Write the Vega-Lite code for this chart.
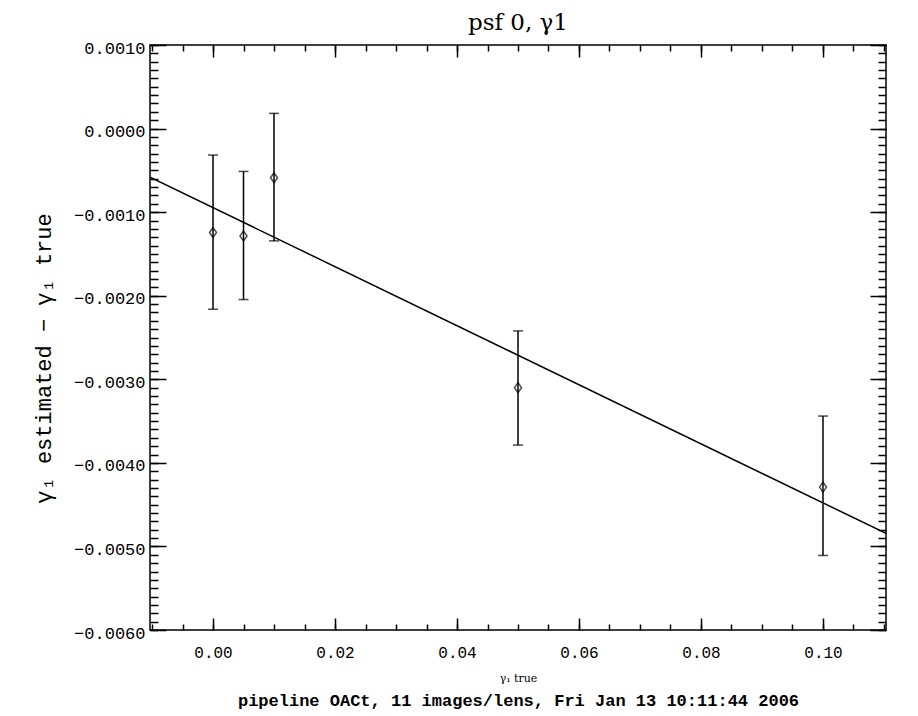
{
  "$schema": "https://vega.github.io/schema/vega-lite/v6.json",
  "width": 736,
  "height": 585,
  "autosize": {"type": "none"},
  "padding": {"left": 150, "top": 45, "right": 32, "bottom": 86},
  "background": "white",
  "config": {
    "view": {"stroke": "black", "strokeWidth": 1.5},
    "axis": {"domain": false, "grid": false, "tickColor": "black", "tickWidth": 1.5, "labelColor": "black", "titleColor": "black", "labelFont": "Liberation Mono", "titleFont": "Liberation Mono", "titleFontWeight": "normal"}
  },
  "title": {"text": "psf 0, γ1", "font": "DejaVu Serif", "fontSize": 23, "fontWeight": "normal", "color": "black", "offset": 4, "anchor": "middle"},
  "datasets": {
    "pts": [
      {"x": 0, "y": -0.001243, "lo": -0.002162, "hi": -0.000317},
      {"x": 0.005, "y": -0.001284, "lo": -0.002046, "hi": -0.000513},
      {"x": 0.01, "y": -0.000589, "lo": -0.001344, "hi": 0.000182},
      {"x": 0.05, "y": -0.0031, "lo": -0.003787, "hi": -0.002421},
      {"x": 0.1, "y": -0.00429, "lo": -0.005108, "hi": -0.00344}
    ],
    "fit": [
      {"x": -0.01033, "y": -0.000581},
      {"x": 0.11033, "y": -0.004844}
    ]
  },
  "layer": [
    {
      "data": {"name": "fit"},
      "mark": {"type": "line", "color": "black", "strokeWidth": 1.5, "clip": true},
      "encoding": {
        "x": {"field": "x", "type": "quantitative", "scale": {"domain": [-0.01033, 0.11033], "nice": false, "zero": false},
          "axis": {"orient": "bottom", "values": [0, 0.02, 0.04, 0.06, 0.08, 0.1], "format": ".2f", "ticks": false, "labelPadding": 14, "labelFontSize": 16, "title": "γ₁ true", "titleFont": "DejaVu Serif", "titleFontSize": 11, "titlePadding": 12}},
        "y": {"field": "y", "type": "quantitative", "scale": {"domain": [-0.006, 0.001], "nice": false, "zero": false},
          "axis": {"orient": "left", "values": [-0.006, -0.005, -0.004, -0.003, -0.002, -0.001, 0, 0.001], "format": ".4f", "ticks": false, "labelPadding": 5, "labelOffset": 3, "labelFontSize": 17, "title": "γ₁ estimated − γ₁ true", "titleFontSize": 22, "titleX": -107, "titleY": 313, "titleBaseline": "middle", "titleAlign": "center", "titleAngle": 270}}
      }
    },
    {
      "mark": {"type": "rule", "color": "black", "strokeWidth": 1.5, "strokeDash": [9, 3, 2, 3]},
      "encoding": {
        "y": {"datum": 0, "type": "quantitative", "scale": {"domain": [-0.006, 0.001], "nice": false, "zero": false},
          "axis": {"orient": "right", "values": [-0.006, -0.005, -0.004, -0.003, -0.002, -0.001, 0, 0.001], "labels": false, "tickSize": 16, "offset": -16, "title": null}}
      }
    },
    {
      "data": {"name": "pts"},
      "mark": {"type": "rule", "color": "black", "strokeWidth": 1.5},
      "encoding": {
        "x": {"field": "x", "type": "quantitative", "scale": {"domain": [-0.01033, 0.11033], "nice": false, "zero": false},
          "axis": {"orient": "bottom", "values": [0, 0.02, 0.04, 0.06, 0.08, 0.1], "labels": false, "tickSize": 12, "offset": -12, "title": "pipeline OACt, 11 images/lens, Fri Jan 13 10:11:44 2006", "titleFontSize": 17, "titleFontWeight": "bold", "titlePadding": 62}},
        "y": {"field": "lo", "type": "quantitative", "scale": {"domain": [-0.006, 0.001], "nice": false, "zero": false},
          "axis": {"orient": "left", "values": [-0.006, -0.005, -0.004, -0.003, -0.002, -0.001, 0, 0.001], "labels": false, "tickSize": 16, "offset": -16, "title": null}},
        "y2": {"field": "hi"}
      }
    },
    {
      "data": {"name": "pts"},
      "mark": {"type": "tick", "orient": "horizontal", "color": "black", "size": 10, "thickness": 1.5},
      "encoding": {
        "x": {"field": "x", "type": "quantitative", "scale": {"domain": [-0.01033, 0.11033], "nice": false, "zero": false},
          "axis": {"orient": "bottom", "values": [-0.01, -0.005, 0, 0.005, 0.01, 0.015, 0.02, 0.025, 0.03, 0.035, 0.04, 0.045, 0.05, 0.055, 0.06, 0.065, 0.07, 0.075, 0.08, 0.085, 0.09, 0.095, 0.1, 0.105, 0.11], "labels": false, "tickSize": 6, "offset": -6, "title": null}},
        "y": {"field": "lo", "type": "quantitative", "scale": {"domain": [-0.006, 0.001], "nice": false, "zero": false},
          "axis": {"orient": "left", "values": [-0.006, -0.0059, -0.0058, -0.0057, -0.0056, -0.0055, -0.0054, -0.0053, -0.0052, -0.0051, -0.005, -0.0049, -0.0048, -0.0047, -0.0046, -0.0045, -0.0044, -0.0043, -0.0042, -0.0041, -0.004, -0.0039, -0.0038, -0.0037, -0.0036, -0.0035, -0.0034, -0.0033, -0.0032, -0.0031, -0.003, -0.0029, -0.0028, -0.0027, -0.0026, -0.0025, -0.0024, -0.0023, -0.0022, -0.0021, -0.002, -0.0019, -0.0018, -0.0017, -0.0016, -0.0015, -0.0014, -0.0013, -0.0012, -0.0011, -0.001, -0.0009, -0.0008, -0.0007, -0.0006, -0.0005, -0.0004, -0.0003, -0.0002, -0.0001, 0, 0.0001, 0.0002, 0.0003, 0.0004, 0.0005, 0.0006, 0.0007, 0.0008, 0.0009, 0.001], "labels": false, "tickSize": 8, "offset": -8, "title": null}}
      }
    },
    {
      "data": {"name": "pts"},
      "mark": {"type": "tick", "orient": "horizontal", "color": "black", "size": 10, "thickness": 1.5},
      "encoding": {
        "x": {"field": "x", "type": "quantitative", "scale": {"domain": [-0.01033, 0.11033], "nice": false, "zero": false},
          "axis": {"orient": "top", "values": [0, 0.02, 0.04, 0.06, 0.08, 0.1], "labels": false, "tickSize": 12, "offset": -12, "title": null}},
        "y": {"field": "hi", "type": "quantitative", "scale": {"domain": [-0.006, 0.001], "nice": false, "zero": false},
          "axis": {"orient": "right", "values": [-0.006, -0.0059, -0.0058, -0.0057, -0.0056, -0.0055, -0.0054, -0.0053, -0.0052, -0.0051, -0.005, -0.0049, -0.0048, -0.0047, -0.0046, -0.0045, -0.0044, -0.0043, -0.0042, -0.0041, -0.004, -0.0039, -0.0038, -0.0037, -0.0036, -0.0035, -0.0034, -0.0033, -0.0032, -0.0031, -0.003, -0.0029, -0.0028, -0.0027, -0.0026, -0.0025, -0.0024, -0.0023, -0.0022, -0.0021, -0.002, -0.0019, -0.0018, -0.0017, -0.0016, -0.0015, -0.0014, -0.0013, -0.0012, -0.0011, -0.001, -0.0009, -0.0008, -0.0007, -0.0006, -0.0005, -0.0004, -0.0003, -0.0002, -0.0001, 0, 0.0001, 0.0002, 0.0003, 0.0004, 0.0005, 0.0006, 0.0007, 0.0008, 0.0009, 0.001], "labels": false, "tickSize": 8, "offset": -8, "title": null}}
      }
    },
    {
      "data": {"name": "pts"},
      "mark": {"type": "point", "shape": "M-0.7,0L0,-1L0.7,0L0,1Z", "filled": false, "size": 100, "color": "black", "strokeWidth": 1.5},
      "encoding": {
        "x": {"field": "x", "type": "quantitative", "scale": {"domain": [-0.01033, 0.11033], "nice": false, "zero": false},
          "axis": {"orient": "top", "values": [-0.01, -0.005, 0, 0.005, 0.01, 0.015, 0.02, 0.025, 0.03, 0.035, 0.04, 0.045, 0.05, 0.055, 0.06, 0.065, 0.07, 0.075, 0.08, 0.085, 0.09, 0.095, 0.1, 0.105, 0.11], "labels": false, "tickSize": 6, "offset": -6, "title": null}},
        "y": {"field": "y", "type": "quantitative", "scale": {"domain": [-0.006, 0.001], "nice": false, "zero": false}, "axis": null}
      }
    }
  ],
  "resolve": {"axis": {"x": "independent", "y": "independent"}}
}
